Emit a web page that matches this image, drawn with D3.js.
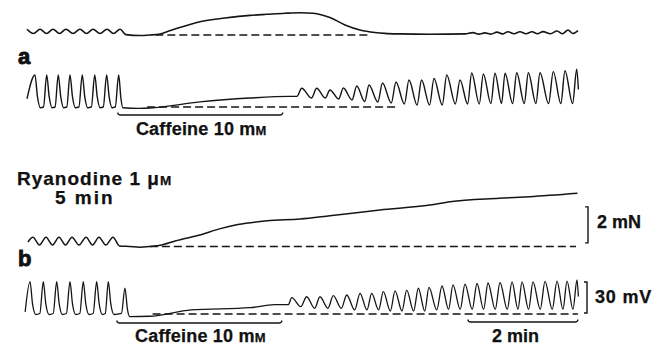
<!DOCTYPE html>
<html><head><meta charset="utf-8">
<script src="https://cdn.jsdelivr.net/npm/d3@7"></script>
<style>
body{margin:0;background:#fff}
text{font-family:"Liberation Sans",Arial,Helvetica,sans-serif;font-weight:bold;fill:#111;stroke:#111;stroke-width:0.25px}
</style>
</head><body>
<svg id="c" width="665" height="345"></svg>
<script>
// ---- DATA (time in s, tension in mN above rest, membrane potential in mV above reference) ----
const tensionA = [[0,0.32],[7.1,0.08],[14.2,0.32],[21.3,0.08],[28.4,0.32],[35.5,0.08],[42.5,0.32],[50.2,0.08],[57.8,0.32],[64.9,0.08],[72,0.32],[79.6,0.08],[87.3,0.32],[94.4,0.08],[101.5,0.32],[108,0.02],[123,-0.03],[134,0],[145.1,0.06],[152.7,0.18],[161.5,0.33],[188.7,0.74],[216,0.94],[243.3,1.09],[261.8,1.15],[281.5,1.21],[297.8,1.24],[312,1.21],[321.8,1.11],[330.5,0.97],[346.9,0.56],[363.3,0.28],[379.6,0.14],[390.5,0.09],[406.9,0.06],[439.6,0.04],[477.8,0.06],[486.5,0.13],[493.1,0.05],[499.6,0.12],[506.2,0.05],[512.7,0.16],[518.7,0.06],[524.7,0.18],[531.3,0.07],[537.8,0.18],[544.4,0.07],[550.9,0.18],[556.9,0.07],[562.9,0.19],[571.1,0.07],[578.2,0.22],[584.2,0.07],[590.2,0.28],[595.6,0.08],[601.1,0.24]];

const membraneA = [[0,8],[8.7,31],[11.4,10],[14.5,-0.7],[18,0],[21.5,31],[24.2,10],[27.3,-0.7],[30.6,0],[34.1,31],[36.8,10],[39.9,-0.7],[43.4,0],[46.9,31],[49.6,10],[52.7,-0.7],[56.6,0],[60.3,31],[63,10],[66.1,-0.7],[70.2,0],[73.9,31],[76.6,10],[79.7,-0.7],[83.2,0],[86.9,31],[89.6,10],[92.7,-0.7],[96.3,0],[100,31],[102.5,8],[104.5,-0.7],[122,-1.3],[134,-1],[188.7,5],[243,8.7],[286,10.3],[294.5,10.3],[299.7,18.1],[310.3,8.7],[316,18.1],[325.4,8.7],[330.5,16.5],[340,7.7],[345.1,18.4],[354.6,6.8],[359.7,20.3],[368.4,5.3],[373.1,21.3],[382.7,4.8],[387.8,23.2],[397.4,3.9],[402.5,24.2],[411.7,2.9],[416.7,26.1],[425.6,1.9],[430.4,26.1],[439.2,1.9],[444,27.6],[453,1.9],[457.9,31],[467.3,2.9],[472.4,26.1],[480.7,2.9],[485.1,32.9],[493.4,2.9],[497.8,31.9],[506.1,3.4],[510.5,32.6],[517.7,3.4],[521.5,32.6],[529.8,3.4],[534.2,33.2],[542.5,3.4],[546.9,33.2],[555.2,3.4],[559.6,33.2],[569,3.4],[574.1,34.2],[582.4,3.4],[586.9,35.1],[595.2,3.4],[599.7,36.5],[601.5,17]];

const tensionB = [[1,0.25],[6.5,0.51],[13.6,0.08],[20.7,0.51],[27.8,0.08],[34.9,0.51],[42,0.08],[49.1,0.51],[56.7,0.08],[64.4,0.51],[71.5,0.08],[78.5,0.51],[86,0.08],[93.8,0.51],[101,0.03],[112,0],[123,-0.04],[134,0],[148,0.1],[161.5,0.31],[188.7,0.64],[210,0.98],[230,1.22],[261.8,1.43],[297.8,1.53],[330.5,1.71],[385,2.03],[439.6,2.3],[461.5,2.49],[515,2.68],[548,2.77],[600.5,2.96]];

const membraneB = [[-2,2],[3.3,31.3],[6,10],[9.5,-0.5],[14,0.5],[17.8,31.3],[20.5,10],[24,-0.5],[28.6,0.5],[32.4,31.3],[35.1,10],[38.6,-0.5],[43,0.5],[46.9,31.3],[49.6,10],[53.1,-0.5],[57.6,0.5],[61.4,31.3],[64.1,10],[67.6,-0.5],[72.2,0.5],[76,31.3],[78.7,10],[82.2,-0.5],[85.4,0.5],[88.7,31.3],[91.4,10],[94.9,-0.5],[103,0.5],[106.9,25],[109.5,5],[112,-2.6],[134,-2.2],[178.9,3.9],[243.3,6.1],[270,9],[285,9],[288.8,15.8],[298.6,7.1],[305.1,16.7],[313.8,5.5],[319.6,16.7],[328.3,5.5],[334.1,17.7],[342.9,5.5],[348.8,18.4],[357.5,3.9],[363.3,20],[370.9,3.9],[376,20],[383.6,3.9],[388.7,21.6],[396.4,2.9],[401.5,22.3],[409.1,2.9],[414.2,23.2],[421.8,2.9],[426.9,24.9],[433.9,2.9],[438.5,25.7],[447,3.9],[452.7,27.1],[459.9,4.4],[464.7,28.1],[472.6,4.4],[477.8,29],[485.7,4.4],[490.9,29.5],[498.1,4.4],[502.9,30],[510.8,4.4],[516,30.5],[523.9,4.4],[529.1,31],[535.6,4.4],[540,31],[547.2,4.4],[552,31],[559.9,4.4],[565.1,31.5],[573,4.4],[578.2,31.9],[584.7,4.4],[589.1,31.9],[595.6,4.4],[600,32.9],[601.5,17]];

// dashed reference lines [start s, end s]
const refTensionA = [140, 374];
const refMembraneA = [131, 404];
const refTensionB = [134, 599];
const refMembraneB = [137, 601];

// caffeine applications [start s, duration s]
const caffeineA = [99, 180];
const caffeineB = [98, 180];
const caffeineLabel = "Caffeine 10 m";
const concUnit = "M";
const drugLabel = "Ryanodine 1 μ";
const drugTime = "5 min";
const panelLabels = ["a", "b"];

// calibration
const calTension = [0.2, 2];   // start, size (mN)
const calVoltage = [1, 30];    // start, size (mV)
const calTime = [481, 120];    // start, size (s)

// ---- DRAW ----
const svg = d3.select("#c");
const x = d3.scaleLinear().domain([0, 600]).range([27, 577]);
const yTA = d3.scaleLinear().domain([0, 2]).range([35, -1]);
const yMA = d3.scaleLinear().domain([0, 30]).range([107, 76]);
const yTB = d3.scaleLinear().domain([0, 2]).range([246.5, 210.5]);
const yMB = d3.scaleLinear().domain([0, 30]).range([314, 283]);

const ink = "#151515";
function trace(data, y, w) {
  const line = d3.line().x(d => x(d[0])).y(d => y(d[1])).curve(d3.curveMonotoneX);
  svg.append("path").attr("d", line(data)).attr("fill", "none")
    .attr("stroke", ink).attr("stroke-width", w).attr("stroke-linejoin", "round");
}
function dashed(span, y) {
  svg.append("line").attr("x1", x(span[0])).attr("x2", x(span[1]))
    .attr("y1", y(0)).attr("y2", y(0))
    .attr("stroke", ink).attr("stroke-width", 1.3).attr("stroke-dasharray", "8,4");
}
trace(tensionA, yTA, 1.6);
trace(membraneA, yMA, 1.4);
trace(tensionB, yTB, 1.5);
trace(membraneB, yMB, 1.3);
dashed(refTensionA, yTA);
dashed(refMembraneA, yMA);
dashed(refTensionB, yTB);
dashed(refMembraneB, yMB);

function bar(x1, x2, yy) {
  svg.append("path")
    .attr("d", `M${x1},${yy-2.5}Q${x1},${yy} ${x1+3},${yy}L${x2-3},${yy}Q${x2},${yy} ${x2},${yy-2.5}`)
    .attr("fill", "none").attr("stroke", ink).attr("stroke-width", 1.3);
}
function caffeine(c, yy, ty) {
  const x1 = x(c[0]), x2 = x(c[0] + c[1]);
  bar(x1, x2, yy);
  const t = svg.append("text").attr("x", (x1 + x2) / 2 + 1).attr("y", ty)
    .attr("text-anchor", "middle").attr("font-size", 18).attr("letter-spacing", 0.2).text(caffeineLabel);
  t.append("tspan").attr("font-size", 13).text(concUnit);
}
caffeine(caffeineA, 115, 135);
caffeine(caffeineB, 323, 342);

// panel labels
svg.append("text").attr("x", 18).attr("y", 64).attr("font-size", 22).style("stroke-width", "0.9px").text(panelLabels[0]);
svg.append("text").attr("x", 18).attr("y", 266).attr("font-size", 22).style("stroke-width", "0.9px").text(panelLabels[1]);

// drug label
const dl = svg.append("text").attr("x", 17).attr("y", 185).attr("font-size", 19)
  .attr("letter-spacing", 1.0).text(drugLabel);
dl.append("tspan").attr("font-size", 13.5).text(concUnit);
svg.append("text").attr("x", 55).attr("y", 204).attr("font-size", 19)
  .attr("letter-spacing", 2).text(drugTime);

// calibration brackets
function bracket(xx, y1, y2) {
  svg.append("path").attr("d", `M${xx-3},${y1}L${xx},${y1}L${xx},${y2}L${xx-3},${y2}`)
    .attr("fill", "none").attr("stroke", ink).attr("stroke-width", 1.4);
}
bracket(588, yTB(calTension[0] + calTension[1]), yTB(calTension[0]));
svg.append("text").attr("x", 597).attr("y", 228).attr("font-size", 18).text(calTension[1] + " mN");
bracket(587, yMB(calVoltage[0] + calVoltage[1]), yMB(calVoltage[0]));
svg.append("text").attr("x", 595).attr("y", 303).attr("font-size", 18)
  .attr("letter-spacing", 0.8).text(calVoltage[1] + " mV");
bar(x(calTime[0]), x(calTime[0] + calTime[1]), 322);
svg.append("text").attr("x", 492).attr("y", 342).attr("font-size", 18)
  .text((calTime[1] / 60) + " min");
</script>
</body></html>
